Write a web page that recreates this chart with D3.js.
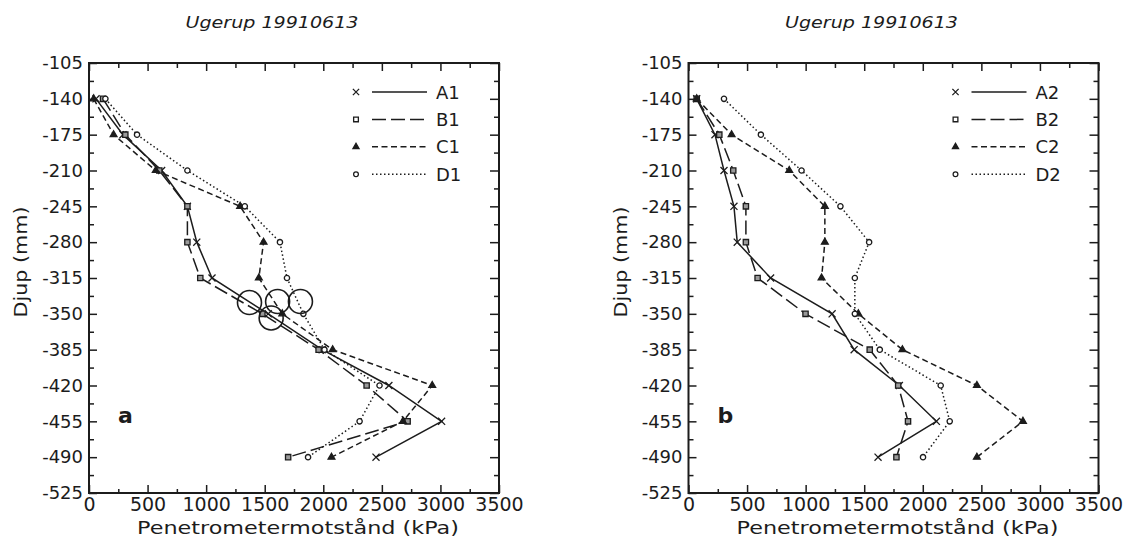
<!DOCTYPE html>
<html>
<head>
<meta charset="utf-8">
<script src="https://cdn.jsdelivr.net/npm/d3@7"></script>
<style>
  body { margin: 0; background: #fff; }
  svg { display: block; }
  text { font-family: "DejaVu Sans", sans-serif; fill: #1c1c1c; }
</style>
</head>
<body>
<div id="chart"></div>
<script>
// depth levels (mm), shared by both panels
const depths = [-140, -175, -210, -245, -280, -315, -350, -385, -420, -455, -490];

// panel a, penetrometer resistance (kPa)
const A1 = [60, 290, 620, 840, 920, 1050, 1530, 1990, 2560, 3010, 2450];
const B1 = [120, 310, 600, 840, 840, 950, 1480, 1960, 2370, 2720, 1700];
const C1 = [40, 210, 570, 1290, 1490, 1450, 1650, 2080, 2930, 2680, 2070];
const D1 = [140, 410, 840, 1330, 1630, 1690, 1830, 2010, 2480, 2310, 1870];

// panel b
const A2 = [70, 226, 303, 388, 416, 701, 1226, 1414, 1800, 2116, 1618];
const B2 = [70, 263, 382, 490, 490, 590, 999, 1547, 1790, 1874, 1775];
const C2 = [70, 368, 860, 1164, 1164, 1136, 1450, 1826, 2462, 2855, 2462];
const D2 = [303, 618, 965, 1297, 1542, 1420, 1420, 1633, 2153, 2230, 2002];

const namesA = ["A1", "B1", "C1", "D1"];
const namesB = ["A2", "B2", "C2", "D2"];

// hand drawn rings on panel a (kPa, mm)
const ringsA = [[1370, -339], [1610, -338], [1805, -338], [1555, -354]];

const yTicks = d3.range(-525, -104, 35);
const xTicks = d3.range(0, 3501, 500);
const title = "Ugerup 19910613";
const xTitle = "Penetrometermotstånd (kPa)";
const yTitle = "Djup (mm)";

const W = 1127, H = 540;
const ink = "#1c1c1c";

const svg = d3.select("#chart").append("svg")
    .attr("width", W)
    .attr("height", H);

const y = d3.scaleLinear().domain([-525, -105]).range([493, 63]);

// line style / marker per series index
const dashes = [null, "14,5", "6,3.5", "1.5,2.5"];
const shapes = [d3.symbolTimes, d3.symbolSquare, d3.symbolTriangle, d3.symbolCircle];
const sizes = [34, 28, 20, 22];
const fills = ["none", "#9a9a9a", ink, "#fff"];

function drawPanel(x0, series, names, letter, rings) {
  const x = d3.scaleLinear().domain([0, 3500]).range([x0, x0 + 410]);
  const g = svg.append("g");

  // ticks, all inward
  const minorX = d3.range(250, 3500, 500);
  const minorY = d3.range(-507.5, -105, 35);

  g.append("g").attr("transform", `translate(0,${y(-525)})`)
      .call(d3.axisBottom(x).tickValues(xTicks).tickSize(-8).tickPadding(4).tickFormat(d => String(d)))
      .call(a => a.selectAll("text").attr("font-size", 19).attr("font-family", "DejaVu Sans"));
  g.append("g").attr("transform", `translate(0,${y(-525)})`)
      .call(d3.axisBottom(x).tickValues(minorX).tickSize(-4).tickFormat(""));
  g.append("g").attr("transform", `translate(0,${y(-105)})`)
      .call(d3.axisTop(x).tickValues(xTicks).tickSize(-8).tickFormat(""));
  g.append("g").attr("transform", `translate(0,${y(-105)})`)
      .call(d3.axisTop(x).tickValues(minorX).tickSize(-5).tickFormat(""));

  g.append("g").attr("transform", `translate(${x(0)},0)`)
      .call(d3.axisLeft(y).tickValues(yTicks).tickSize(-8).tickPadding(6).tickFormat(d => String(d)))
      .call(a => a.selectAll("text").attr("font-size", 18).attr("font-family", "DejaVu Sans"));
  g.append("g").attr("transform", `translate(${x(0)},0)`)
      .call(d3.axisLeft(y).tickValues(minorY).tickSize(-5).tickFormat(""));
  g.append("g").attr("transform", `translate(${x(3500)},0)`)
      .call(d3.axisRight(y).tickValues(yTicks).tickSize(-9).tickFormat(""));
  g.append("g").attr("transform", `translate(${x(3500)},0)`)
      .call(d3.axisRight(y).tickValues(minorY).tickSize(-5).tickFormat(""));

  g.selectAll(".domain").remove();
  g.selectAll(".tick line").attr("stroke", ink).attr("stroke-width", 1.5);
  g.selectAll(".tick text").attr("fill", ink);

  // frame
  g.append("rect")
      .attr("x", x(0)).attr("y", y(-105))
      .attr("width", x(3500) - x(0)).attr("height", y(-525) - y(-105))
      .attr("fill", "none").attr("stroke", ink).attr("stroke-width", 2);

  const line = d3.line().x(d => x(d[0])).y(d => y(d[1]));

  series.forEach((vals, i) => {
    const pts = vals.map((v, j) => [v, depths[j]]);
    g.append("path")
        .attr("d", line(pts))
        .attr("fill", "none")
        .attr("stroke", ink)
        .attr("stroke-width", 1.5)
        .attr("stroke-dasharray", dashes[i]);
    g.selectAll(null).data(pts).enter().append("path")
        .attr("transform", d => `translate(${x(d[0])},${y(d[1])})`)
        .attr("d", d3.symbol(shapes[i], sizes[i]))
        .attr("fill", fills[i])
        .attr("stroke", ink)
        .attr("stroke-width", 1.3);
  });

  if (rings) {
    g.selectAll(null).data(rings).enter().append("circle")
        .attr("cx", d => x(d[0])).attr("cy", d => y(d[1]))
        .attr("r", 12)
        .attr("fill", "none").attr("stroke", ink).attr("stroke-width", 1.6);
  }

  // legend
  const lx = x0 + 267;
  names.forEach((n, i) => {
    const ly = 92 + i * 27.4;
    g.append("path")
        .attr("transform", `translate(${lx},${ly})`)
        .attr("d", d3.symbol(shapes[i], sizes[i] * 0.8))
        .attr("fill", i === 2 ? ink : "#fff")
        .attr("stroke", ink).attr("stroke-width", 1.3);
    g.append("line")
        .attr("x1", lx + 16).attr("x2", lx + 71)
        .attr("y1", ly).attr("y2", ly)
        .attr("stroke", ink).attr("stroke-width", 1.5)
        .attr("stroke-dasharray", dashes[i]);
    g.append("text")
        .attr("x", lx + 80).attr("y", ly + 6.5)
        .attr("font-size", 18)
        .text(n);
  });

  // titles
  const cx = (x(0) + x(3500)) / 2;
  g.append("text")
      .attr("x", cx - 22).attr("y", 28)
      .attr("text-anchor", "middle")
      .attr("font-size", 16).attr("font-style", "italic")
      .attr("textLength", 173).attr("lengthAdjust", "spacingAndGlyphs")
      .text(title);
  g.append("text")
      .attr("x", cx + 4).attr("y", 534)
      .attr("text-anchor", "middle")
      .attr("font-size", 18)
      .attr("textLength", 322).attr("lengthAdjust", "spacingAndGlyphs")
      .text(xTitle);
  g.append("text")
      .attr("transform", `translate(${x0 - 62},262) rotate(-90)`)
      .attr("text-anchor", "middle")
      .attr("font-size", 18)
      .attr("textLength", 111).attr("lengthAdjust", "spacingAndGlyphs")
      .text(yTitle);

  g.append("text")
      .attr("x", x0 + 29).attr("y", 423)
      .attr("font-family", "Liberation Serif, serif")
      .attr("font-weight", "bold")
      .attr("font-size", 22)
      .text(letter);
}

drawPanel(89, [A1, B1, C1, D1], namesA, "a", ringsA);
drawPanel(688.5, [A2, B2, C2, D2], namesB, "b", null);
</script>
</body>
</html>
